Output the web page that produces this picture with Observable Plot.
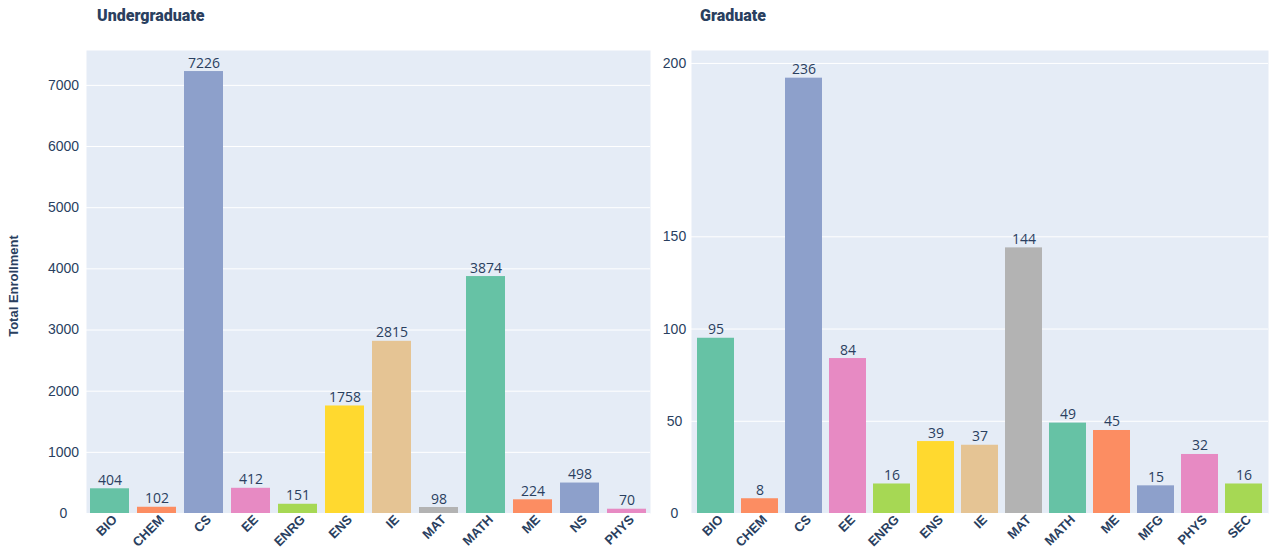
<!DOCTYPE html>
<html>
<head>
<meta charset="utf-8">
<script src="https://cdn.jsdelivr.net/npm/d3@7"></script>
<script src="https://cdn.jsdelivr.net/npm/@observablehq/plot@0.6"></script>
<style>
  html, body { margin: 0; padding: 0; background: #fff; }
  #root { position: relative; width: 1277px; height: 551px; overflow: hidden; font-family: "Liberation Sans", Arial, sans-serif; color: #2a3f5f; }
  .title { position: absolute; top: 6px; font-family: Roboto, "Liberation Sans", sans-serif; font-weight: 900; font-size: 16px; color: #2a3f5f; }
  .ytitle { position: absolute; left: 13px; top: 286px; transform: translate(-50%, -50%) rotate(-90deg); font-weight: bold; font-size: 13px; white-space: nowrap; color: #2a3f5f; }
  .panel { position: absolute; top: 30px; }
</style>
</head>
<body>
<div id="root">
  <div class="title" style="left:97px">Undergraduate</div>
  <div class="title" style="left:700px">Graduate</div>
  <div class="ytitle">Total Enrollment</div>
  <div class="panel" id="left" style="left:0px"></div>
  <div class="panel" id="right" style="left:640px"></div>
</div>
<script>
const palette = ["#66c2a5", "#fc8d62", "#8da0cb", "#e78ac3", "#a6d854", "#ffd92f", "#e5c494", "#b3b3b3"];

const ugPrograms = ["BIO", "CHEM", "CS", "EE", "ENRG", "ENS", "IE", "MAT", "MATH", "ME", "NS", "PHYS"];
const ugEnrollment = [404, 102, 7226, 412, 151, 1758, 2815, 98, 3874, 224, 498, 70];
const ugTicks = [0, 1000, 2000, 3000, 4000, 5000, 6000, 7000];
const ugTickLabels = ["0", "1000", "2000", "3000", "4000", "5000", "6000", "7000"];

const grPrograms = ["BIO", "CHEM", "CS", "EE", "ENRG", "ENS", "IE", "MAT", "MATH", "ME", "MFG", "PHYS", "SEC"];
const grEnrollment = [95, 8, 236, 84, 16, 39, 37, 144, 49, 45, 15, 32, 16];
const grTicks = [0, 50, 100, 150, 244];
const grTickLabels = ["0", "50", "100", "150", "200"];

function panel(programs, values, ticks, tickLabels, opts) {
  const data = programs.map((p, i) => ({program: p, value: values[i], color: palette[i % palette.length]}));
  const labelOf = new Map(ticks.map((t, i) => [t, tickLabels[i]]));
  return Plot.plot({
    width: opts.width,
    height: 521,
    marginLeft: opts.marginLeft,
    marginRight: opts.marginRight,
    marginTop: 20,
    marginBottom: 38,
    style: {fontFamily: "'Liberation Sans', Arial, sans-serif", color: "#2a3f5f", background: "transparent", overflow: "visible"},
    x: {domain: programs, paddingInner: 0.17, paddingOuter: 0.085, label: null},
    y: {domain: [0, opts.yMax], label: null},
    marks: [
      Plot.frame({fill: "#e5ecf6", stroke: null}),
      Plot.gridY(ticks, {stroke: "#ffffff", strokeOpacity: 1, strokeWidth: 1}),
      Plot.barY(data, {x: "program", y: "value", fill: "color"}),
      Plot.text(data, {x: "program", y: "value", text: d => String(d.value), dy: -4, lineAnchor: "bottom", fontSize: 14, fontFamily: "'Open Sans', sans-serif", fill: "#2a3f5f"}),
      Plot.axisY(ticks, {tickSize: 0, tickPadding: opts.yPad, textAnchor: "middle", tickFormat: t => labelOf.get(t), fontSize: 14, fill: "#2a3f5f"}),
      Plot.axisX({tickSize: 0, tickRotate: -45, tickPadding: 4, dx: 5, fontSize: 13, fontWeight: "bold", fill: "#2a3f5f"})
    ]
  });
}

document.getElementById("left").append(panel(ugPrograms, ugEnrollment, ugTicks, ugTickLabels, {width: 660, marginLeft: 86, marginRight: 10, yMax: 7570, yPad: 23}));
document.getElementById("right").append(panel(grPrograms, grEnrollment, grTicks, grTickLabels, {width: 637, marginLeft: 51, marginRight: 9, yMax: 251, yPad: 17}));
</script>
</body>
</html>
